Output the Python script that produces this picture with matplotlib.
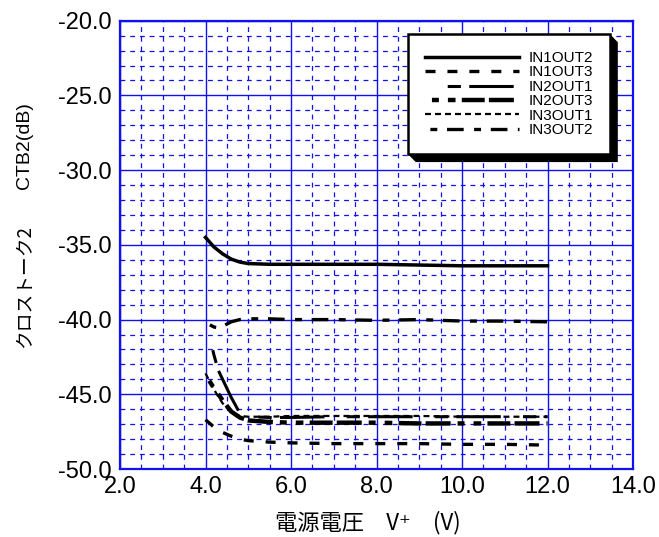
import matplotlib
matplotlib.use("Agg")
import matplotlib.pyplot as plt
from matplotlib.patches import Polygon
from matplotlib.transforms import IdentityTransform
from matplotlib.ticker import MultipleLocator, FormatStrFormatter

plt.rcParams['font.family'] = ['Liberation Sans', 'Noto Sans CJK JP', 'DejaVu Sans']
plt.rcParams['lines.scale_dashes'] = False

# data (supply voltage V+ vs crosstalk CTB2 in dB)
x_in1out2 = [4.0, 4.2, 4.4, 4.6, 4.8, 5.0, 5.5, 6.0, 7.0, 8.0, 9.0, 10.0, 11.0, 12.0]
y_in1out2 = [-34.5, -35.15, -35.6, -35.95, -36.15, -36.25, -36.3, -36.3, -36.3, -36.3, -36.35, -36.4, -36.4, -36.4]

x_in1out3 = [4.0, 4.2, 4.4, 4.6, 4.8, 5.0, 5.5, 6.0, 7.0, 8.0, 9.0, 10.0, 11.0, 12.0]
y_in1out3 = [-46.7, -47.2, -47.55, -47.8, -48.0, -48.1, -48.2, -48.25, -48.3, -48.3, -48.3, -48.35, -48.35, -48.4]

x_in2out1 = [4.05, 4.1, 4.2, 4.3, 4.4, 4.6, 4.8, 5.0, 5.5, 6.0, 7.0, 8.0, 9.0, 10.0, 11.0, 12.0]
y_in2out1 = [-40.6, -41.2, -42.4, -43.4, -44.0, -45.2, -46.25, -46.5, -46.55, -46.55, -46.5, -46.5, -46.5, -46.5, -46.5, -46.5]

x_in2out3 = [4.0, 4.2, 4.4, 4.6, 4.8, 5.0, 5.5, 6.0, 7.0, 8.0, 9.0, 10.0, 11.0, 12.0]
y_in2out3 = [-43.7, -44.6, -45.4, -46.15, -46.55, -46.75, -46.85, -46.9, -46.9, -46.9, -46.95, -46.95, -46.95, -46.95]

x_in3out1 = [4.0, 4.2, 4.4, 4.6, 4.8, 5.0, 5.5, 6.0, 7.0, 8.0, 9.0, 10.0, 11.0, 12.0]
y_in3out1 = [-43.6, -44.7, -45.6, -46.2, -46.45, -46.5, -46.5, -46.45, -46.45, -46.45, -46.45, -46.5, -46.5, -46.5]

x_in3out2 = [4.0, 4.2, 4.3, 4.4, 4.6, 4.8, 5.0, 5.5, 6.0, 7.0, 8.0, 9.0, 10.0, 11.0, 12.0]
y_in3out2 = [-40.2, -40.5, -40.55, -40.45, -40.15, -40.0, -39.95, -39.95, -40.0, -40.0, -40.05, -40.0, -40.1, -40.1, -40.15]

labels = ['IN1OUT2', 'IN1OUT3', 'IN2OUT1', 'IN2OUT3', 'IN3OUT1', 'IN3OUT2']

blue = '#1010f0'

fig = plt.figure(figsize=(6.59, 5.37), dpi=100)
ax = fig.add_axes([0.1821, 0.1266, 0.7785, 0.8348])

ax.plot(x_in1out2, y_in1out2, color='black', lw=2.5, linestyle='-', label=labels[0])
ax.plot(x_in1out3, y_in1out3, color='black', lw=2.4, linestyle=(0, (7.2, 8.6)), label=labels[1])
ax.plot(x_in2out1, y_in2out1, color='black', lw=2.2, linestyle=(47.5, (9.5, 6, 32, 16)), label=labels[2])
ax.plot(x_in2out3, y_in2out3, color='black', lw=3.2, linestyle=(59, (5, 6.5, 5.5, 4.5, 16.5, 3, 18, 5)), label=labels[3])
ax.plot(x_in3out1, y_in3out1, color='black', lw=1.6, linestyle=(0, (4.3, 2.9)), label=labels[4])
ax.plot(x_in3out2, y_in3out2, color='black', lw=2.4, linestyle=(28, (5, 7, 12, 7.5)), label=labels[5])

ax.set_xlim(2.0, 14.0)
ax.set_ylim(-50.0, -20.0)
ax.xaxis.set_major_locator(MultipleLocator(2.0))
ax.xaxis.set_minor_locator(MultipleLocator(0.5))
ax.yaxis.set_major_locator(MultipleLocator(5.0))
ax.yaxis.set_minor_locator(MultipleLocator(1.0))
ax.xaxis.set_major_formatter(FormatStrFormatter('%.1f'))
ax.yaxis.set_major_formatter(FormatStrFormatter('%.1f'))
ax.tick_params(which='both', length=0, labelsize=17)
ax.tick_params(axis='y', pad=6)
ax.tick_params(axis='x', pad=5)

ax.grid(True, which='major', color=blue, lw=1.0, linestyle='-')
ax.grid(True, which='minor', color=blue, lw=0.9, linestyle=(0, (3.5, 3.5)))
ax.set_axisbelow(True)
for sp in ax.spines.values():
    sp.set_color(blue)
    sp.set_linewidth(1.6)

leg = ax.legend(loc='upper left', bbox_to_anchor=(0.561, 0.970), borderaxespad=0,
                fancybox=False, framealpha=1, edgecolor='black', fontsize=11,
                handlelength=6.15, handletextpad=0.65, labelspacing=0.03, borderpad=1.1)
leg.get_frame().set_linewidth(1.8)
leg.set_zorder(5)

fig.text(368 / 659, 1 - 523 / 537, '電源電圧　V⁺　(V)', ha='center', va='center',
         fontsize=16, family=['Noto Sans CJK JP', 'DejaVu Sans'])
fig.text(25 / 659, 1 - 286 / 537, 'クロストーク2', rotation=90, ha='center', va='center',
         fontsize=13.5, family=['Noto Sans CJK JP', 'DejaVu Sans'])
fig.text(25 / 659, 1 - 146 / 537, 'CTB2(dB)', rotation=90, ha='center', va='center',
         fontsize=14)

# 3D-style shadow behind the legend box
fig.canvas.draw()
bb = leg.get_frame().get_window_extent(fig.canvas.get_renderer())
d = 8
x0, y0, x1, y1 = bb.x0, bb.y0, bb.x1, bb.y1
shadow = [(x1, y1), (x1 + d, y1 - d), (x1 + d, y0 - d), (x0 + d, y0 - d), (x0, y0)]
ax.add_patch(Polygon(shadow, closed=True, transform=IdentityTransform(), facecolor='black',
                     edgecolor='none', zorder=4.9, clip_on=False))

fig.savefig('out.png', dpi=100)
